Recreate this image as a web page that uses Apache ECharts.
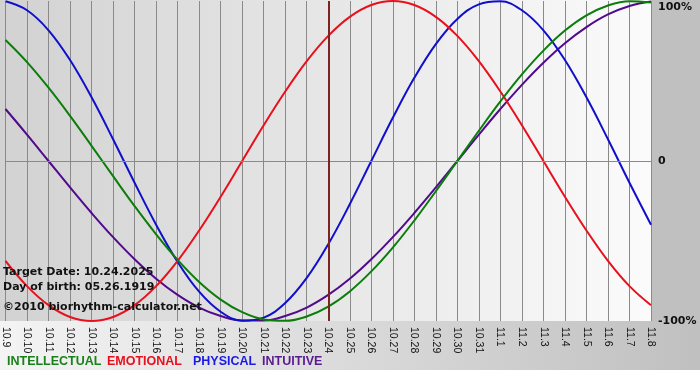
<!DOCTYPE html>
<html>
<head>
<meta charset="utf-8">
<script src="https://cdn.jsdelivr.net/npm/echarts@6/dist/echarts.min.js"></script>
<style>html,body{margin:0;padding:0;background:#fff}#c{width:700px;height:380px}</style>
</head>
<body>
<div id="c"></div>
<script>
var dates = ['10.9','10.10','10.11','10.12','10.13','10.14','10.15','10.16','10.17','10.18','10.19','10.20','10.21','10.22','10.23','10.24','10.25','10.26','10.27','10.28','10.29','10.30','10.31','11.1','11.2','11.3','11.4','11.5','11.6','11.7','11.8'];
var intellectual = [0.756,0.618,0.458,0.282,0.095,-0.095,-0.282,-0.458,-0.618,-0.756,-0.866,-0.945,-0.990,-0.999,-0.972,-0.910,-0.815,-0.690,-0.541,-0.372,-0.189,0,0.189,0.372,0.541,0.690,0.815,0.910,0.972,0.999,0.990];
var emotional = [-0.624,-0.782,-0.901,-0.975,-1,-0.975,-0.901,-0.782,-0.624,-0.434,-0.223,0,0.223,0.434,0.624,0.782,0.901,0.975,1,0.975,0.901,0.782,0.624,0.434,0.223,0,-0.223,-0.434,-0.624,-0.782,-0.901];
var physical = [0.998,0.942,0.817,0.631,0.398,0.136,-0.136,-0.398,-0.631,-0.817,-0.942,-0.998,-0.979,-0.888,-0.731,-0.520,-0.270,0,0.270,0.520,0.731,0.888,0.979,0.998,0.942,0.817,0.631,0.398,0.136,-0.136,-0.398];
var intuitive = [0.325,0.165,0,-0.165,-0.325,-0.476,-0.614,-0.736,-0.837,-0.916,-0.969,-0.997,-0.997,-0.969,-0.916,-0.837,-0.736,-0.614,-0.476,-0.325,-0.165,0,0.165,0.325,0.476,0.614,0.736,0.837,0.916,0.969,0.997];
var yTickValues = [-1, 0, 1];
var yTickLabels = ['-100%', '0', '100%'];
var targetDate = '10.24';
var infoLines = ['Target Date: 10.24.2025', 'Day of birth: 05.26.1919', '\u00A92010 biorhythm-calculator.net'];
var seriesNames = ['INTELLECTUAL', 'EMOTIONAL', 'PHYSICAL', 'INTUITIVE'];
var lineColors = ['#0b7d0b', '#e8101c', '#1010cc', '#520a8c'];
var legendColors = ['#1a801a', '#e8101c', '#1a1ae6', '#5a1a90'];

var chart = echarts.init(document.getElementById('c'), null, {renderer: 'canvas'});

function mkSeries(name, data, color) {
  return {
    name: name, type: 'line', data: data, smooth: 0.4, showSymbol: false, symbol: 'none',
    lineStyle: {color: color, width: 2}, itemStyle: {color: color}, animation: false
  };
}

var legendX = [7, 107, 193, 262];
var graphics = [
  {type: 'rect', z: -10, silent: true, shape: {x: 0, y: 0, width: 651, height: 321},
   style: {fill: new echarts.graphic.LinearGradient(0, 0, 1, 0, [{offset: 0, color: '#d2d2d2'}, {offset: 1, color: '#fbfbfb'}])}},
  {type: 'rect', z: -10, silent: true, shape: {x: 651, y: 0, width: 49, height: 321},
   style: {fill: '#c0c0c0'}},
  {type: 'rect', z: -10, silent: true, shape: {x: 0, y: 321, width: 700, height: 49},
   style: {fill: new echarts.graphic.LinearGradient(0, 0, 1, 0, [{offset: 0, color: '#f4f4f4'}, {offset: 1, color: '#c0c0c0'}])}}
];
var infoY = [272, 287, 307];
infoLines.forEach(function (t, i) {
  graphics.push({type: 'text', z: 100, silent: true, x: 3, y: infoY[i],
    style: {text: t, fill: '#111', font: 'bold 11px "DejaVu Sans"', textVerticalAlign: 'middle', verticalAlign: 'middle'}});
});
seriesNames.forEach(function (n, i) {
  graphics.push({type: 'text', z: 100, silent: true, x: legendX[i], y: 362,
    style: {text: n, fill: legendColors[i], font: 'bold 12.5px "Liberation Sans"', verticalAlign: 'middle', textVerticalAlign: 'middle'}});
});

var option = {
  animation: false,
  backgroundColor: '#ffffff',
  grid: {left: 0, right: 49, top: 1, bottom: 59, containLabel: false},
  xAxis: {
    type: 'category', data: dates, boundaryGap: false,
    axisLine: {show: true, lineStyle: {color: '#888', width: 1}},
    axisTick: {show: true, length: 4, lineStyle: {color: '#888'}, interval: 0},
    axisLabel: {rotate: -90, interval: 0, margin: 6, color: '#111', fontFamily: 'Liberation Sans', fontSize: 10.5},
    splitLine: {show: true, interval: 0, lineStyle: {color: '#8a8a8a', width: 1}}
  },
  yAxis: {
    type: 'value', position: 'right', min: -1, max: 1, interval: 1,
    axisLine: {show: false}, axisTick: {show: false}, splitLine: {show: false},
    axisLabel: {
      margin: 7, color: '#111', fontFamily: 'DejaVu Sans', fontWeight: 'bold', fontSize: 11,
      formatter: function (v) {
        var idx = yTickValues.indexOf(v);
        var s = idx >= 0 ? yTickLabels[idx] : '';
        return v === 1 ? '{t|' + s + '}' : s;
      },
      rich: {t: {padding: [13, 0, 0, 0], color: '#111', fontFamily: 'DejaVu Sans', fontWeight: 'bold', fontSize: 11}}
    }
  },
  graphic: graphics,
  series: [
    mkSeries(seriesNames[3], intuitive, lineColors[3]),
    mkSeries(seriesNames[2], physical, lineColors[2]),
    mkSeries(seriesNames[1], emotional, lineColors[1]),
    (function () {
      var s = mkSeries(seriesNames[0], intellectual, lineColors[0]);
      s.markLine = {
        silent: true, symbol: 'none', animation: false, label: {show: false},
        data: [
          {yAxis: 0, lineStyle: {color: '#8a8a8a', width: 1, type: 'solid'}},
          {xAxis: targetDate, lineStyle: {color: '#7a2424', width: 2, type: 'solid'}}
        ]
      };
      return s;
    })()
  ]
};
chart.setOption(option);
</script>
</body>
</html>
